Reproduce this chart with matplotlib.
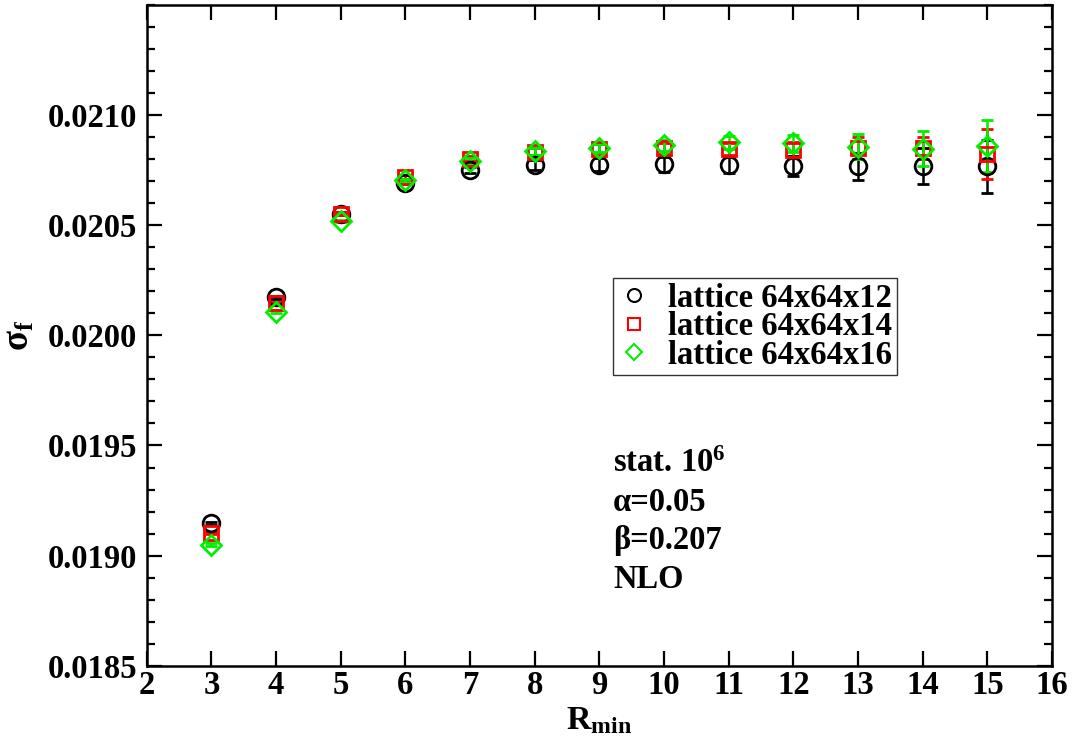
import matplotlib
matplotlib.use("Agg")
import matplotlib.pyplot as plt
from matplotlib.lines import Line2D
from matplotlib.ticker import MultipleLocator, FixedLocator, FormatStrFormatter

plt.rcParams['font.family'] = ['Liberation Serif', 'DejaVu Serif']
plt.rcParams['font.weight'] = 'bold'
plt.rcParams['mathtext.fontset'] = 'custom'
plt.rcParams['mathtext.rm'] = 'Liberation Serif'
plt.rcParams['mathtext.it'] = 'Liberation Serif:italic'
plt.rcParams['mathtext.bf'] = 'Liberation Serif:bold'

# Fit results for the string tension versus the minimal distance R_min
r_min = [3, 4, 5, 6, 7, 8, 9, 10, 11, 12, 13, 14, 15]

sigma_12 = [0.019146, 0.020172, 0.020552, 0.020693, 0.020750, 0.020772, 0.020775,
            0.020776, 0.020772, 0.020768, 0.020767, 0.020767, 0.020767]
err_12 = [0.000006, 0.000006, 0.000006, 0.000008, 0.000015, 0.000022, 0.000030,
          0.000032, 0.000036, 0.000046, 0.000060, 0.000082, 0.000120]

sigma_14 = [0.019103, 0.020146, 0.020553, 0.020718, 0.020803, 0.020833, 0.020848,
            0.020849, 0.020845, 0.020842, 0.020850, 0.020850, 0.020825]
err_14 = [0.000006, 0.000006, 0.000006, 0.000008, 0.000012, 0.000016, 0.000020,
          0.000025, 0.000028, 0.000034, 0.000050, 0.000049, 0.000114]

sigma_16 = [0.019050, 0.020107, 0.020520, 0.020704, 0.020792, 0.020836, 0.020851,
            0.020863, 0.020877, 0.020872, 0.020856, 0.020848, 0.020861]
err_16 = [0.000006, 0.000006, 0.000006, 0.000008, 0.000012, 0.000016, 0.000020,
          0.000025, 0.000030, 0.000038, 0.000057, 0.000080, 0.000119]

labels = ['lattice 64x64x12', 'lattice 64x64x14', 'lattice 64x64x16']
info_lines = [r'stat. 10$^{\mathbf{6}}$', 'α=0.05', 'β=0.207', 'NLO']
y_major = [0.0185, 0.0190, 0.0195, 0.0200, 0.0205, 0.0210]

FS = 23.5

fig = plt.figure(figsize=(10.75, 7.46), dpi=100)
ax = fig.add_axes([0.1365, 0.1076, 0.8421, 0.8857])

series = [
    (sigma_12, err_12, 'o', 'black', 12),
    (sigma_14, err_14, 's', '#ff0000', 10.5),
    (sigma_16, err_16, 'D', '#00ee00', 9.8),
]
handles = []
for (vals, errs, mk, col, ms), lab in zip(series, labels):
    ax.errorbar(r_min, vals, yerr=errs, fmt=mk, ms=ms, mfc='none', mec=col,
                mew=2, ecolor=col, elinewidth=1.8, capsize=4, capthick=1.8)
    handles.append(Line2D([], [], ls='none', marker=mk, ms=ms * 0.78,
                          mfc='none', mec=col, mew=1.5, label=lab))

ax.set_xlim(2, 16)
ax.set_ylim(0.0185, 0.0215)
ax.xaxis.set_major_locator(MultipleLocator(1))
ax.yaxis.set_major_locator(FixedLocator(y_major))
ax.yaxis.set_minor_locator(MultipleLocator(0.0001))
ax.yaxis.set_major_formatter(FormatStrFormatter('%.4f'))

ax.tick_params(which='both', direction='in', top=True, right=True, width=1.6,
               labelsize=FS)
ax.tick_params(which='major', length=11)
ax.tick_params(which='minor', length=5.5)
ax.tick_params(axis='x', pad=3)
ax.tick_params(axis='y', pad=7)
for sp in ax.spines.values():
    sp.set_linewidth(1.8)

ax.set_xlabel(r'$\mathbf{R}_{\mathbf{min}}$', fontsize=FS + 1, labelpad=3)
ax.set_ylabel(r'$\mathrm{\sigma}_{\mathbf{f}}$', fontsize=FS + 3, labelpad=8)

leg = ax.legend(handles=handles, loc='upper left', bbox_to_anchor=(0.515, 0.587),
                borderaxespad=0, fontsize=FS, frameon=True, fancybox=False,
                handlelength=1.0, handletextpad=0.55, labelspacing=-0.08,
                borderpad=0.15, numpoints=1)
leg.get_frame().set_edgecolor('black')
leg.get_frame().set_linewidth(1.0)

for i, line in enumerate(info_lines):
    ax.text(0.515, 0.293 - i * 0.0585, line, transform=ax.transAxes,
            fontsize=FS, fontweight='bold', va='baseline', ha='left')

fig.savefig('out.png', dpi=100)
